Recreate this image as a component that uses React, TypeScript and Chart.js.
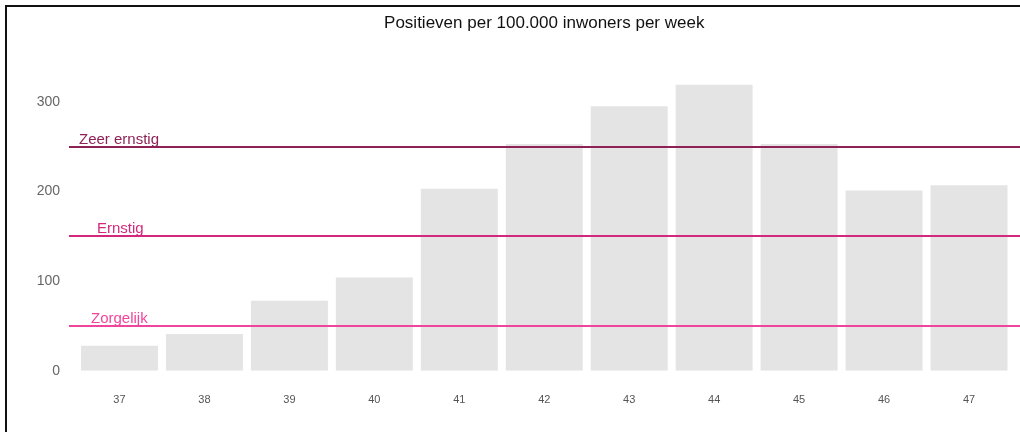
import React, { useEffect, useRef } from "react";
import { Chart, registerables } from "chart.js";

Chart.register(...registerables);

const weeks = ["37", "38", "39", "40", "41", "42", "43", "44", "45", "46", "47"];
const positives = [28, 41, 78, 104, 203, 253, 295, 319, 253, 201, 207];
const levelNames = ["Zeer ernstig", "Ernstig", "Zorgelijk"];
const levelValues = [250, 150, 50];
const levelColors = ["#8e2257", "#d4287c", "#f0459c"];
const levelLabelOffsets = [2, 20, 14];
const yTicks = [0, 100, 200, 300];
const titleText = "Positieven per 100.000 inwoners per week";

const FONT = "'Liberation Sans', Arial, sans-serif";

const levelsPlugin = {
  id: "levels",
  afterDatasetsDraw(chart: any) {
    const { ctx, chartArea, scales } = chart;
    const y = scales.y;
    ctx.save();
    levelValues.forEach((v, i) => {
      const py = Math.round(y.getPixelForValue(v));
      ctx.strokeStyle = levelColors[i];
      ctx.lineWidth = 2;
      ctx.beginPath();
      ctx.moveTo(chartArea.left - 8, py);
      ctx.lineTo(chart.width, py);
      ctx.stroke();
      ctx.fillStyle = levelColors[i];
      ctx.font = `15px ${FONT}`;
      ctx.textAlign = "left";
      ctx.textBaseline = "alphabetic";
      ctx.fillText(levelNames[i], chartArea.left + levelLabelOffsets[i], py - 3);
    });
    ctx.fillStyle = "#111";
    ctx.font = `17px ${FONT}`;
    ctx.textAlign = "center";
    ctx.textBaseline = "middle";
    ctx.fillText(titleText, (chartArea.left + chartArea.right) / 2, 23);
    ctx.restore();
  },
};

export default function App() {
  const ref = useRef<HTMLCanvasElement>(null);
  useEffect(() => {
    if (!ref.current) return;
    const chart = new Chart(ref.current, {
      type: "bar",
      data: {
        labels: weeks,
        datasets: [
          {
            data: positives,
            backgroundColor: "#e4e4e4",
            borderWidth: 0,
            barPercentage: 0.906,
            categoryPercentage: 1,
          },
        ],
      },
      options: {
        animation: false,
        responsive: false,
        layout: { padding: { top: 56, right: 8.5, bottom: 2, left: 0 } },
        plugins: {
          legend: { display: false },
          tooltip: { enabled: false },
          title: { display: false },
        },
        scales: {
          x: {
            grid: { display: false, drawTicks: false },
            border: { display: false },
            ticks: { color: "#555", font: { family: FONT, size: 11 }, padding: 23 },
          },
          y: {
            min: 0,
            max: 351,
            grid: { display: false, drawTicks: false },
            border: { display: false },
            afterFit: (s: any) => {
              s.width = 77;
            },
            afterBuildTicks: (s: any) => {
              s.ticks = yTicks.map((v) => ({ value: v }));
            },
            ticks: { color: "#666", font: { family: FONT, size: 14 }, padding: 17 },
          },
        },
      },
      plugins: [levelsPlugin],
    });
    return () => chart.destroy();
  }, []);
  return (
    <div style={{ position: "fixed", left: 0, top: 0, width: 1020, height: 432, background: "#fff" }}>
      <canvas ref={ref} width={1020} height={432} style={{ position: "absolute", left: 0, top: 0 }} />
      <div
        style={{
          position: "absolute",
          left: 5,
          top: 5,
          width: 1015,
          height: 427,
          borderTop: "2px solid #111",
          borderLeft: "2px solid #111",
          boxSizing: "border-box",
          pointerEvents: "none",
        }}
      />
    </div>
  );
}
